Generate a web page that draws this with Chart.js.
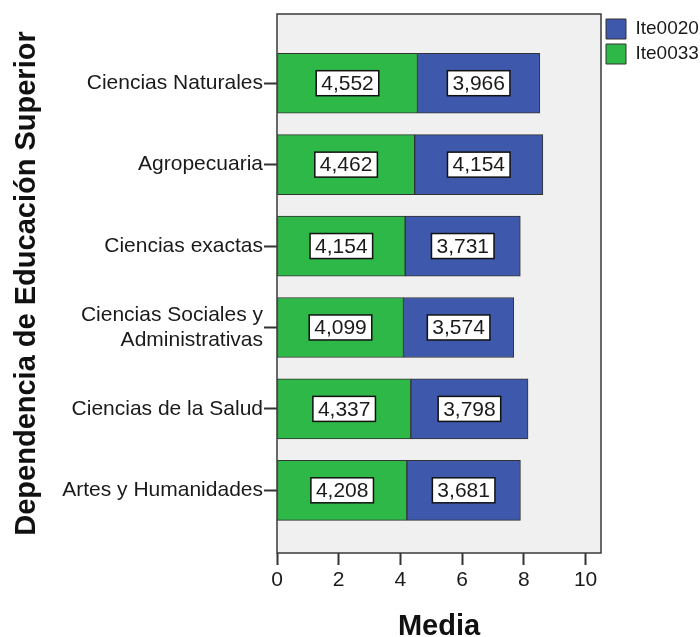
<!DOCTYPE html>
<html>
<head>
<meta charset="utf-8">
<script src="https://cdn.jsdelivr.net/npm/chart.js@4"></script>
<style>
   body{ margin:0; background:#fff; }
   #wrap{ width:700px; height:637px; }
</style>
</head>
<body>
<div id="wrap"><canvas id="chart" width="700" height="637"></canvas></div>
<script>

/* datos */

let categorias = [
   "Ciencias Naturales",
   "Agropecuaria",
   "Ciencias exactas",
   "Ciencias Sociales y\nAdministrativas",
   "Ciencias de la Salud",
   "Artes y Humanidades"
];

let ite0033 = [4.552, 4.462, 4.154, 4.099, 4.337, 4.208];

let ite0020 = [3.966, 4.154, 3.731, 3.574, 3.798, 3.681];

let ticksX = [0, 2, 4, 6, 8, 10];

let fuente = "'Liberation Sans', Arial, sans-serif";


function formatoMedia(v){

   return v.toFixed(3).replace(".", ",");

}

function toPoints(values){

   return values.map(function(v, i){

      return { x: v, y: i };

   });

}


/* fondo gris y marco del area */

let marcoPlugin = {

   id: "marco",

   beforeDatasetsDraw: function(chart){

      let a = chart.chartArea;
      let ctx = chart.ctx;

      ctx.save();
      ctx.fillStyle = "#f0f0f0";
      ctx.fillRect(a.left, a.top, a.right - a.left, a.bottom - a.top);
      ctx.restore();

   },

   afterDatasetsDraw: function(chart){

      let a = chart.chartArea;
      let ctx = chart.ctx;

      ctx.save();
      ctx.strokeStyle = "#3a3a3a";
      ctx.lineWidth = 1.5;
      ctx.strokeRect(a.left, a.top, a.right - a.left, a.bottom - a.top);
      ctx.restore();

   }

};


/* etiquetas con caja blanca */

let etiquetasPlugin = {

   id: "etiquetas",

   afterDatasetsDraw: function(chart){

      let ctx = chart.ctx;

      ctx.save();
      ctx.font = "21px " + fuente;
      ctx.textAlign = "center";
      ctx.textBaseline = "middle";

      chart.data.datasets.forEach(function(ds, di){

         let meta = chart.getDatasetMeta(di);

         meta.data.forEach(function(bar, i){

            let txt = formatoMedia(ds.data[i].x);
            let cx = (bar.x + bar.base) / 2;
            let cy = bar.y;
            let w = ctx.measureText(txt).width + 10;
            let h = 25;

            ctx.fillStyle = "#ffffff";
            ctx.fillRect(cx - w / 2, cy - h / 2, w, h);

            ctx.strokeStyle = "#111";
            ctx.lineWidth = 1.5;
            ctx.strokeRect(cx - w / 2, cy - h / 2, w, h);

            ctx.fillStyle = "#1a1a1a";
            ctx.fillText(txt, cx, cy + 1);

         });

      });

      ctx.restore();

   }

};


let ctx = document.getElementById("chart").getContext("2d");

new Chart(ctx, {

   type: "bar",

   data: {

      datasets: [

         {
            label: "Ite0033",
            data: toPoints(ite0033),
            backgroundColor: "#2eb848",
            borderColor: "#333",
            borderWidth: 1,
            borderSkipped: false,
            barThickness: 60
         },

         {
            label: "Ite0020",
            data: toPoints(ite0020),
            backgroundColor: "#3e58ac",
            borderColor: "#333",
            borderWidth: 1,
            borderSkipped: false,
            barThickness: 60
         }

      ]

   },

   options: {

      indexAxis: "y",

      responsive: false,
      animation: false,

      layout: {
         padding: { top: 14, left: 0, right: 0, bottom: 0 }
      },

      plugins: {

         legend: {

            position: "right",
            align: "start",
            reverse: true,
            maxWidth: 99,

            labels: {
               boxWidth: 20,
               boxHeight: 20,
               padding: 5,
               color: "#1a1a1a",
               font: { family: fuente, size: 19 }
            }

         },

         tooltip: { enabled: false }

      },

      scales: {

         x: {

            type: "linear",
            stacked: true,
            min: 0,
            max: 10.5,

            afterFit: function(scale){
               scale.height = 84;
            },

            afterBuildTicks: function(scale){
               scale.ticks = ticksX.map(function(v){
                  return { value: v };
               });
            },

            grid: {
               drawOnChartArea: false,
               tickLength: 12,
               tickWidth: 2,
               color: "#333"
            },

            border: { display: false },

            ticks: {
               padding: 3,
               color: "#1a1a1a",
               font: { family: fuente, size: 21 }
            },

            title: {
               display: true,
               text: "Media",
               color: "#111",
               font: { family: fuente, size: 29, weight: "bold" },
               padding: { top: 0, bottom: -7 }
            }

         },

         y: {

            type: "linear",
            stacked: true,
            reverse: true,
            offset: false,
            min: -0.85,
            max: 5.77,

            afterFit: function(scale){
               scale.width = 277;
            },

            afterBuildTicks: function(scale){
               scale.ticks = categorias.map(function(c, i){
                  return { value: i };
               });
            },

            grid: {
               offset: false,
               drawOnChartArea: false,
               tickLength: 13,
               tickWidth: 2,
               color: "#333"
            },

            border: { display: false },

            ticks: {
               padding: 1,
               color: "#1a1a1a",
               font: { family: fuente, size: 21 },
               callback: function(value){
                  let c = categorias[value];
                  return c ? c.split("\n") : "";
               }
            },

            title: {
               display: true,
               text: "Dependencia de Educación Superior",
               color: "#111",
               font: { family: fuente, size: 29, weight: "bold" },
               padding: { top: 10, bottom: 0 }
            }

         }

      }

   },

   plugins: [marcoPlugin, etiquetasPlugin]

});

</script>
</body>
</html>
